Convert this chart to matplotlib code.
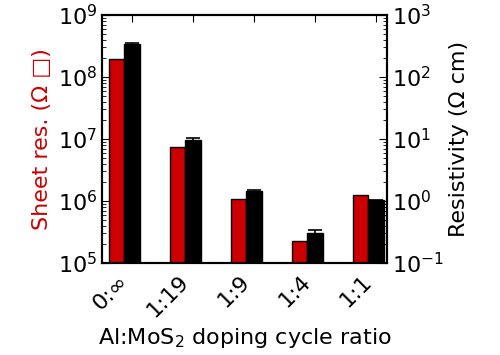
import numpy as np
import matplotlib
matplotlib.use("Agg")
import matplotlib.pyplot as plt

ratios = ["0:\u221e", "1:19", "1:9", "1:4", "1:1"]
sheet_res = [1.95e8, 7.35e6, 1.06e6, 2.24e5, 1.26e6]
resistivity = [335, 9.5, 1.43, 0.31, 1.02]
resistivity_err = [15, 0.9, 0.09, 0.035, 0.03]

red = "#cc0000"
plt.rcParams["font.size"] = 16
plt.rcParams["xtick.direction"] = "in"
plt.rcParams["ytick.direction"] = "in"

fig = plt.figure(figsize=(5, 3.55), dpi=100)
ax = fig.add_axes([0.204, 0.259, 0.57, 0.699])
ax2 = ax.twinx()

x = np.arange(len(ratios))
w = 0.25
ax.bar(x - w, sheet_res, width=w, color=red, edgecolor="black", linewidth=1)
ax2.bar(x, resistivity, width=w, color="black", edgecolor="black", linewidth=1,
        yerr=resistivity_err, ecolor="black", capsize=5, error_kw={"elinewidth": 1.2, "capthick": 1.2})

ax.set_yscale("log")
ax2.set_yscale("log")
ax.set_ylim(1e5, 1e9)
ax2.set_ylim(1e-1, 1e3)
ax.set_xlim(-0.49, 4.18)

ax.set_xticks(x)
ax.set_xticklabels(ratios, rotation=45, ha="right")
ax.tick_params(axis="x", top=True, length=5, pad=6)
ax.tick_params(axis="y", which="major", length=6)
ax.tick_params(axis="y", which="minor", length=3)
ax2.tick_params(axis="y", which="major", length=6)
ax2.tick_params(axis="y", which="minor", length=3)
for a in (ax, ax2):
    for s in a.spines.values():
        s.set_linewidth(1.5)

ax.set_ylabel("Sheet res. (\u03a9 \u25a1)", color=red)
ax2.set_ylabel("Resistivity (\u03a9 cm)")
ax.set_xlabel("Al:MoS$_2$ doping cycle ratio")

fig.savefig("out.png", dpi=100)
